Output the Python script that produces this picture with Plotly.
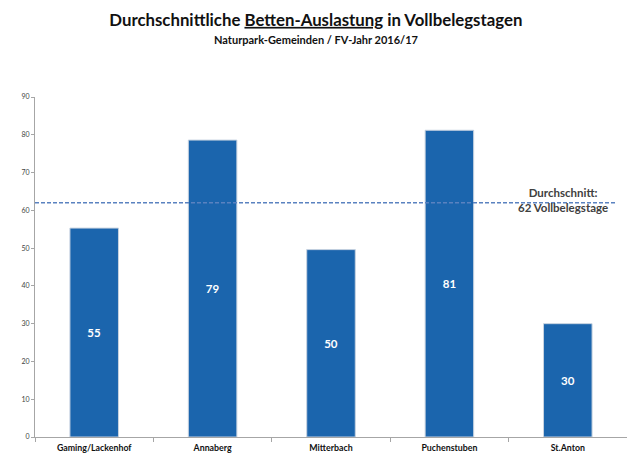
import plotly.graph_objects as go

gemeinden = ["Gaming/Lackenhof", "Annaberg", "Mitterbach", "Puchenstuben", "St.Anton"]
vollbelegstage = [55.3, 78.6, 49.6, 81.2, 30.0]
bar_labels = ["55", "79", "50", "81", "30"]
durchschnitt = 62

FONT = "Lato"
BLUE = "#1b65ad"

fig = go.Figure()
fig.add_trace(go.Bar(
    x=gemeinden, y=vollbelegstage, width=0.41,
    marker=dict(color=BLUE, line=dict(color="#c8d3e0", width=1)),
    text=bar_labels, textposition="inside", insidetextanchor="middle",
    textfont=dict(family=FONT, size=11.5, color="white", weight="bold"),
    cliponaxis=False,
))

# average line
fig.add_shape(type="line", xref="paper", yref="y", x0=0, x1=0.982,
              y0=durchschnitt, y1=durchschnitt,
              line=dict(color="#5a82c0", width=1.5, dash="4px,2px"))
fig.add_annotation(xref="paper", yref="y", x=0.892, y=durchschnitt + 0.8,
                   xanchor="center", yanchor="middle",
                   text="<b>Durchschnitt:<br>%d Vollbelegstage</b>" % durchschnitt,
                   showarrow=False, font=dict(family=FONT, size=11.5, color="#404040"),
                   align="center")

# subtitle
fig.add_annotation(xref="paper", yref="paper", x=0.475, y=1.168,
                   xanchor="center", yanchor="middle",
                   text="<b>Naturpark-Gemeinden / FV-Jahr 2016/17</b>",
                   showarrow=False, font=dict(family=FONT, size=11, color="#111111"))

# page has an 8px body margin, so the figure is 8px smaller than the window
fig.update_layout(
    width=627, height=445,
    margin=dict(l=27, r=8, t=89, b=16),
    paper_bgcolor="white", plot_bgcolor="white",
    showlegend=False,
    title=dict(text="<b>Durchschnittliche <u>Betten-Auslastung</u> in Vollbelegstagen</b>",
               x=0.491, xanchor="center", xref="container", y=1 - 12 / 445, yanchor="middle",
               font=dict(family=FONT, size=16.8, color="#111111")),
    xaxis=dict(showline=True, linecolor="#a6a6a6", linewidth=1, automargin=False,
               ticks="outside", tickson="boundaries", ticklen=4, tickcolor="#a6a6a6",
               ticklabelstandoff=2,
               tickfont=dict(family=FONT, size=8.8, color="#111111", weight="bold"),
               showgrid=False),
    yaxis=dict(range=[0, 90], dtick=10, showline=True, linecolor="#a6a6a6", linewidth=1,
               automargin=False,
               ticks="outside", ticklen=3, tickcolor="#a6a6a6",
               tickfont=dict(family=FONT, size=7, color="#444444"),
               showgrid=False, zeroline=False),
)

fig.write_html("out.html")
